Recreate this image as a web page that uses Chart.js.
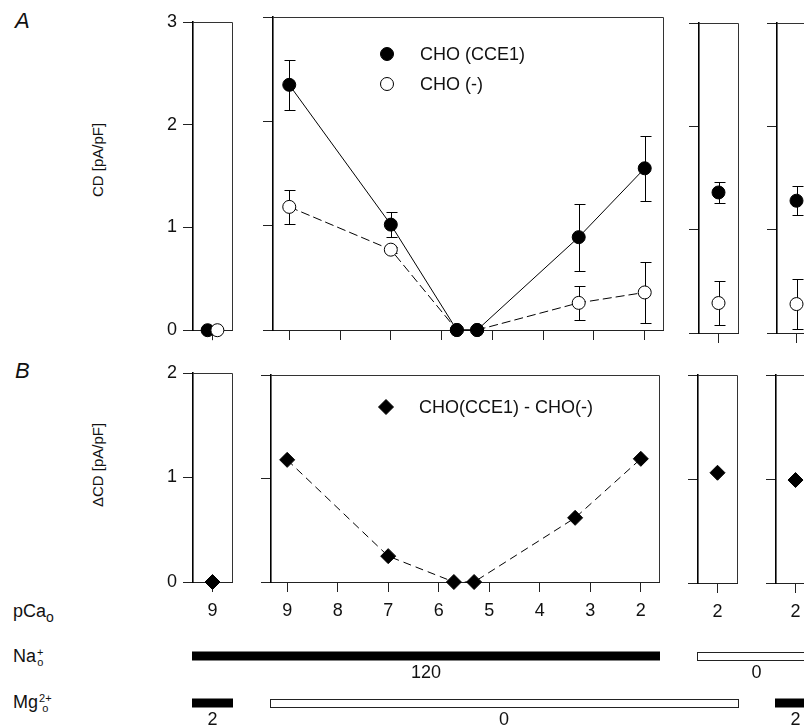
<!DOCTYPE html>
<html>
<head>
<meta charset="utf-8">
<script src="https://cdn.jsdelivr.net/npm/chart.js@4.4.0/dist/chart.umd.min.js"></script>
<style>
    body { margin: 0; width: 804px; height: 725px; overflow: hidden; background: #fff; position: relative;
           font-family: "Liberation Sans", Arial, Helvetica, sans-serif; color: #111; }
    .t { position: absolute; font-size: 18px; line-height: 20px; white-space: nowrap; }
    .pl { font-size: 22px; font-style: italic; }
    .yt { width: 200px; text-align: center; font-size: 15px; transform: rotate(-90deg); }
    .stk { display: inline-block; vertical-align: middle; font-size: 11px; line-height: 10px; text-align: center; margin-left: 1px; }
    .stk span { display: block; }
    sub { font-size: 14px; vertical-align: -5px; }
</style>
</head>
<body>
<div class="t pl" style="left:15px;top:11px">A</div>
<div class="t pl" style="left:15px;top:361px">B</div>
<div class="t yt" style="left:-2px;top:150px">CD [pA/pF]</div>
<div class="t yt" style="left:-2px;top:455px">ΔCD [pA/pF]</div>
<div class="t" style="left:13px;top:601px">pCa<sub>o</sub></div>
<div class="t" style="left:13px;top:646px">Na<span class="stk"><span>+</span><span>o</span></span></div>
<div class="t" style="left:13px;top:692px">Mg<span class="stk"><span>2+</span><span>o</span></span></div>
<script>
document.addEventListener('DOMContentLoaded', function () {
    // pCa series on the wide panel (120 Na, 0 Mg)
    var pCaMain = [9, 7, 5.7, 5.3, 3.3, 2];
    var pCaTicks = [9, 8, 7, 6, 5, 4, 3, 2];
    var cceMean = [2.35, 1.01, 0.0, 0.0, 0.89, 1.55];
    var cceErr = [0.24, 0.12, 0, 0, 0.32, 0.31];
    var ctlMean = [1.18, 0.77, 0.0, 0.0, 0.26, 0.36];
    var ctlErr = [0.16, 0.03, 0, 0, 0.16, 0.29];
    var diffMean = [1.18, 0.25, 0.0, 0.0, 0.62, 1.19];

    // narrow panels: pCa 9 / Mg 2, pCa 2 / Na 0, pCa 2 / Na 0 + Mg 2
    var sidePCa = [9, 2, 2];
    var sideCce = [0.0, 1.36, 1.28];
    var sideCceErr = [0, 0.10, 0.14];
    var sideCtl = [0.0, 0.29, 0.28];
    var sideCtlErr = [0, 0.21, 0.24];
    var sideDiff = [0.0, 1.06, 0.99];

    var cdTicks = [0, 1, 2, 3];
    var dcdTicks = [0, 1, 2];

    // bath conditions under each of the 4 panels
    var naLevels = [120, 120, 0, 0];
    var mgLevels = [2, 0, 0, 2];

    var FONT = '"Liberation Sans", Arial, Helvetica, sans-serif';
    Chart.defaults.font.family = FONT;
    Chart.defaults.color = '#111';

    // panel boxes in page pixels (plot area)
    var boxA = [[193, 232, 22, 333], [273, 663, 17, 330], [699, 738, 23, 333], [777, 816, 23, 333]];
    var boxB = [[193, 232, 373, 582], [271, 659, 375, 582], [698, 737, 375, 583], [776, 815, 375, 583]];
    var xRange = [[8.6, 9.4], [1.64, 9.32], [1.6, 2.4], [1.6, 2.4]];
    var xTickSets = [[9], pCaTicks, [2], [2]];

    var frame = {
        id: 'frame',
        beforeDatasetsDraw: function (chart) {
            var a = chart.chartArea, ctx = chart.ctx;
            ctx.save();
            ctx.strokeStyle = '#333';
            ctx.lineWidth = 1;
            ctx.beginPath();
            ctx.moveTo(a.left, Math.round(a.top) + 0.5);
            ctx.lineTo(Math.round(a.right) + 0.5, Math.round(a.top) + 0.5);
            ctx.lineTo(Math.round(a.right) + 0.5, a.bottom);
            ctx.stroke();
            ctx.restore();
        }
    };

    var errBars = {
        id: 'errBars',
        beforeDatasetsDraw: function (chart) {
            var ctx = chart.ctx, xs = chart.scales.x, ys = chart.scales.y;
            ctx.save();
            ctx.strokeStyle = '#000';
            ctx.lineWidth = 1;
            chart.data.datasets.forEach(function (ds) {
                if (!ds.err) return;
                ds.data.forEach(function (p, i) {
                    var e = ds.err[i];
                    if (!e) return;
                    var x = Math.round(xs.getPixelForValue(p.x)) + 0.5;
                    var y1 = Math.round(ys.getPixelForValue(p.y + e)) + 0.5;
                    var y2 = Math.round(ys.getPixelForValue(p.y - e)) + 0.5;
                    ctx.beginPath();
                    ctx.moveTo(x, y1); ctx.lineTo(x, y2);
                    ctx.moveTo(x - 5, y1); ctx.lineTo(x + 6, y1);
                    ctx.moveTo(x - 5, y2); ctx.lineTo(x + 6, y2);
                    ctx.stroke();
                });
            });
            ctx.restore();
        }
    };

    // legend drawn inside the plot
    var keyBox = {
        id: 'keyBox',
        afterDatasetsDraw: function (chart, args, opts) {
            if (!opts || !opts.x) return;
            var ctx = chart.ctx;
            var ox = chart.canvas.offsetLeft, oy = chart.canvas.offsetTop;
            chart.data.datasets.forEach(function (ds, i) {
                if (!ds.label) return;
                var x = opts.x - ox, y = opts.y + i * opts.dy - oy;
                ctx.save();
                ctx.fillStyle = ds.pointBackgroundColor;
                ctx.strokeStyle = ds.pointBorderColor;
                ctx.lineWidth = 1;
                Chart.helpers.drawPoint(ctx, { pointStyle: ds.pointStyle, radius: ds.pointRadius, borderWidth: 1, rotation: 0 }, x, y);
                ctx.fillStyle = '#111';
                ctx.font = '18px ' + FONT;
                ctx.textBaseline = 'middle';
                ctx.fillText(ds.label, x + 33, y + 1);
                ctx.restore();
            });
        }
    };

    function filled(label, pts, err) {
        return {
            label: label, data: pts, err: err, borderColor: '#000', borderWidth: 1, tension: 0,
            pointStyle: 'circle', pointRadius: 6.5, pointBackgroundColor: '#000', pointBorderColor: '#000',
            showLine: pts.length > 1, clip: false
        };
    }
    function open(label, pts, err) {
        return {
            label: label, data: pts, err: err, borderColor: '#000', borderWidth: 1, borderDash: [9, 4], tension: 0,
            pointStyle: 'circle', pointRadius: 6.5, pointBackgroundColor: '#fff', pointBorderColor: '#000',
            showLine: pts.length > 1, clip: false
        };
    }
    function diamond(label, pts) {
        return {
            label: label, data: pts, borderColor: '#000', borderWidth: 1, borderDash: [8, 5], tension: 0,
            pointStyle: 'rectRot', pointRadius: 7.5, pointBackgroundColor: '#000', pointBorderColor: '#000',
            showLine: pts.length > 1, clip: false
        };
    }

    function makePanel(box, idx, yMax, yTicks, datasets, opts) {
        var yw = opts.yLabels ? 40 : 12;
        var xh = opts.xLabels ? 42 : 14;
        var padT = 24, padR = 14;
        var cv = document.createElement('canvas');
        cv.width = (box[1] - box[0]) + yw + padR;
        cv.height = (box[3] - box[2]) + padT + xh;
        cv.style.position = 'absolute';
        cv.style.left = (box[0] - yw) + 'px';
        cv.style.top = (box[2] - padT) + 'px';
        document.body.appendChild(cv);
        return new Chart(cv, {
            type: 'line',
            data: { datasets: datasets },
            options: {
                responsive: false,
                animation: false,
                events: [],
                layout: { padding: { top: padT, right: padR, left: 0, bottom: 0 } },
                plugins: { legend: { display: false }, tooltip: { enabled: false }, keyBox: opts.key || {} },
                scales: {
                    x: {
                        type: 'linear', reverse: true, min: xRange[idx][0], max: xRange[idx][1],
                        afterBuildTicks: function (s) { s.ticks = xTickSets[idx].map(function (v) { return { value: v }; }); },
                        afterFit: function (s) { s.height = xh; },
                        grid: { drawOnChartArea: false, drawTicks: true, tickLength: 10, color: '#222', lineWidth: 1 },
                        border: { display: true, color: '#222', width: 1 },
                        ticks: { display: !!opts.xLabels, padding: 8, color: '#111', font: { size: 18 }, autoSkip: false, maxRotation: 0 }
                    },
                    y: {
                        type: 'linear', min: 0, max: yMax,
                        afterBuildTicks: function (s) { s.ticks = yTicks.map(function (v) { return { value: v }; }); },
                        afterFit: function (s) { s.width = yw; },
                        grid: { drawOnChartArea: false, drawTicks: true, tickLength: 10, color: '#222', lineWidth: 1 },
                        border: { display: true, color: '#000', width: 1.6 },
                        ticks: { display: !!opts.yLabels, padding: 6, color: '#111', font: { size: 18 } }
                    }
                }
            },
            plugins: [frame, errBars, keyBox]
        });
    }

    function pts(xs, ys) { return xs.map(function (x, i) { return { x: x, y: ys[i] }; }); }
    var jit = 0.1;

    // row A
    var p1a = open('', [{ x: sidePCa[0] - jit, y: sideCtl[0] }], [sideCtlErr[0]]);
    p1a.order = 0;
    var p1b = filled('', [{ x: sidePCa[0] + jit, y: sideCce[0] }], [sideCceErr[0]]);
    p1b.order = 1;
    makePanel(boxA[0], 0, 3, cdTicks, [p1a, p1b], { yLabels: true });
    makePanel(boxA[1], 1, 3, cdTicks, [
        filled('CHO (CCE1)', pts(pCaMain, cceMean), cceErr),
        open('CHO (-)', pts(pCaMain, ctlMean), ctlErr)
    ], { key: { x: 387, y: 54, dy: 30 } });
    [1, 2].forEach(function (k) {
        makePanel(boxA[k + 1], k + 1, 3, cdTicks, [
            filled('', [{ x: sidePCa[k], y: sideCce[k] }], [sideCceErr[k]]),
            open('', [{ x: sidePCa[k], y: sideCtl[k] }], [sideCtlErr[k]])
        ], {});
    });

    // row B
    var chartsB = [];
    chartsB.push(makePanel(boxB[0], 0, 2, dcdTicks, [diamond('', [{ x: sidePCa[0], y: sideDiff[0] }])], { yLabels: true, xLabels: true }));
    chartsB.push(makePanel(boxB[1], 1, 2, dcdTicks, [diamond('CHO(CCE1) - CHO(-)', pts(pCaMain, diffMean))],
        { xLabels: true, key: { x: 386, y: 407, dy: 0 } }));
    [1, 2].forEach(function (k) {
        chartsB.push(makePanel(boxB[k + 1], k + 1, 2, dcdTicks, [diamond('', [{ x: sidePCa[k], y: sideDiff[k] }])], { xLabels: true }));
    });

    // condition bars below the panels, aligned to the panels' chart areas
    var ov = document.createElement('canvas');
    ov.width = 804; ov.height = 725;
    ov.style.cssText = 'position:absolute;left:0;top:0';
    document.body.appendChild(ov);
    var ctx = ov.getContext('2d');
    function edge(c, side) { return c.canvas.offsetLeft + c.chartArea[side]; }
    function drawRow(levels, yc, ext) {
        var i = 0;
        while (i < levels.length) {
            var j = i;
            while (j + 1 < levels.length && levels[j + 1] === levels[i]) j++;
            var x0 = edge(chartsB[i], 'left') - ext, x1 = edge(chartsB[j], 'right') + ext;
            if (levels[i] > 0) {
                ctx.fillStyle = '#000';
                ctx.fillRect(x0, yc - 4.5, x1 - x0, 9);
            } else {
                ctx.strokeStyle = '#222';
                ctx.lineWidth = 1;
                ctx.strokeRect(Math.round(x0) + 0.5, yc - 3.5, x1 - x0, 8);
            }
            ctx.fillStyle = '#111';
            ctx.font = '18px ' + FONT;
            ctx.textAlign = 'center';
            ctx.textBaseline = 'middle';
            ctx.fillText(String(levels[i]), (x0 + x1) / 2, yc + 17);
            i = j + 1;
        }
    }
    drawRow(naLevels, 656, 1);
    drawRow(mgLevels, 703, 1);
});
</script>
</body>
</html>
